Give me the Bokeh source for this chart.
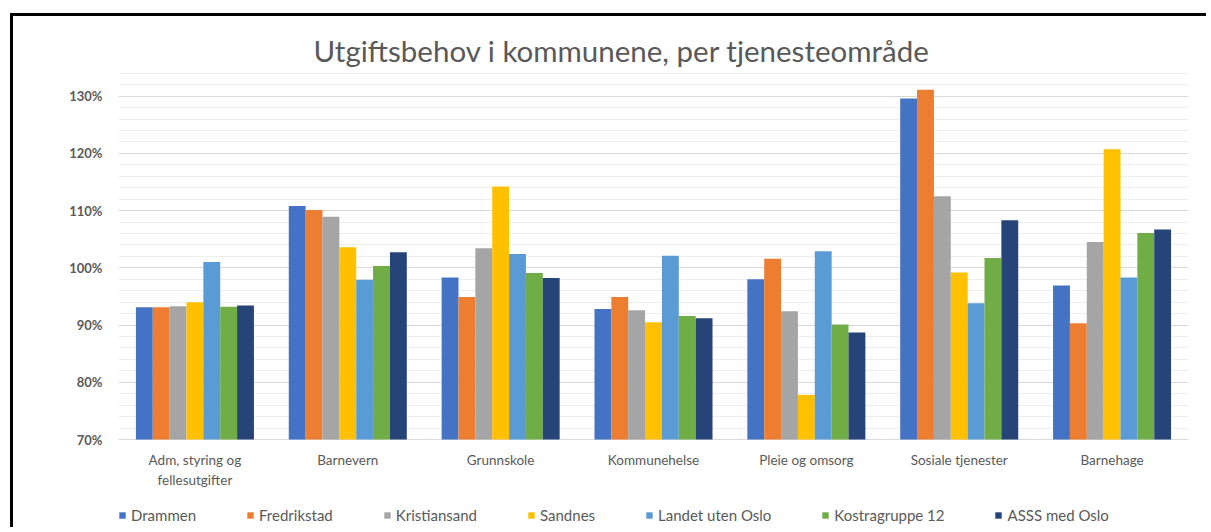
from bokeh.plotting import figure
from bokeh.models import (FactorRange, Range1d, FixedTicker, PrintfTickFormatter,
                          Legend, LegendItem, ColumnDataSource)
from bokeh.transform import dodge
from bokeh.core.properties import value
from bokeh.embed import file_html
from bokeh.resources import INLINE

categories = ["Adm, styring og\nfellesutgifter", "Barnevern", "Grunnskole", "Kommunehelse",
              "Pleie og omsorg", "Sosiale tjenester", "Barnehage"]
series_names = ["Drammen", "Fredrikstad", "Kristiansand", "Sandnes",
                "Landet uten Oslo", "Kostragruppe 12", "ASSS med Oslo"]
drammen = [93.1, 110.8, 98.3, 92.8, 98.0, 129.6, 96.9]
fredrikstad = [93.1, 110.1, 94.9, 94.9, 101.6, 131.1, 90.3]
kristiansand = [93.3, 108.9, 103.4, 92.6, 92.4, 112.5, 104.5]
sandnes = [94.0, 103.6, 114.2, 90.5, 77.8, 99.2, 120.7]
landet_uten_oslo = [101.0, 97.9, 102.4, 102.1, 102.9, 93.8, 98.3]
kostragruppe_12 = [93.2, 100.3, 99.1, 91.6, 90.1, 101.7, 106.1]
asss_med_oslo = [93.4, 102.7, 98.2, 91.2, 88.7, 108.3, 106.7]
y_ticks = [70, 80, 90, 100, 110, 120, 130]

title_text = "Utgiftsbehov i kommunene, per tjenesteområde"

colors = ["#4472C4", "#ED7D31", "#A5A5A5", "#FFC000", "#5B9BD5", "#70AD47", "#264478"]
values = [drammen, fredrikstad, kristiansand, sandnes, landet_uten_oslo, kostragruppe_12, asss_med_oslo]

FONT = "Lato"
GRAY = "#595959"
BASE = 70

src = ColumnDataSource(dict(cat=categories, **{f"s{i}": v for i, v in enumerate(values)}))

# frame spans from the 135% level down past the category labels and legend
px_per_unit = 372 / 65
y_bottom = 135 - 461 / px_per_unit

p = figure(x_range=FactorRange(*categories), y_range=Range1d(y_bottom, 135),
           width=1196, height=514, output_backend="svg", toolbar_location=None,
           x_axis_location=None,
           min_border_left=105, min_border_right=21, min_border_top=51, min_border_bottom=2)
p.styles = {"margin-left": "10px", "margin-top": "13px",
            "border-top": "3px solid black", "border-left": "3px solid black"}

bw = 0.1103
renderers = []
for i, name in enumerate(series_names):
    r = p.vbar(x=dodge("cat", (i - 3) * bw, range=p.x_range), top=f"s{i}", bottom=BASE,
               width=bw, source=src, fill_color=colors[i], line_color=None)
    renderers.append(r)

# category labels under the baseline
p.text(x="cat", y=BASE - 2.1, text="cat", source=src, text_align="center", text_baseline="top",
       text_font=value(FONT), text_font_size="13.5px", text_color=GRAY, text_line_height=1.25)

p.title.text = title_text
p.title.align = "left"
p.title.offset = 195
p.title.text_font = FONT
p.title.text_font_style = "normal"
p.title.text_font_size = "29.5px"
p.title.text_color = GRAY
p.title.standoff = 0

p.outline_line_color = None
p.xgrid.visible = False

ticker = FixedTicker(ticks=y_ticks, minor_ticks=[v for v in range(72, 136, 2) if v % 10])
p.yaxis.ticker = ticker
p.ygrid.ticker = ticker
p.ygrid.grid_line_color = "#D9D9D9"
p.ygrid.minor_grid_line_color = "#EDEDED"

p.yaxis.formatter = PrintfTickFormatter(format="%d%%")
p.yaxis.axis_line_color = None
p.yaxis.major_tick_line_color = None
p.yaxis.minor_tick_line_color = None
p.yaxis.major_label_standoff = 10
p.yaxis.major_label_text_font = FONT
p.yaxis.major_label_text_font_size = "13px"
p.yaxis.major_label_text_font_style = "bold"
p.yaxis.major_label_text_color = GRAY

legend = Legend(items=[LegendItem(label=n, renderers=[r]) for n, r in zip(series_names, renderers)],
                orientation="horizontal", location=(0, 4), spacing=50,
                glyph_width=8, glyph_height=8, label_standoff=5,
                label_text_font=FONT, label_text_font_size="15px", label_text_color=GRAY,
                border_line_color=None, background_fill_alpha=0, padding=0, margin=0)
p.add_layout(legend, "center")

open("out.html", "w").write(file_html(p, INLINE))
